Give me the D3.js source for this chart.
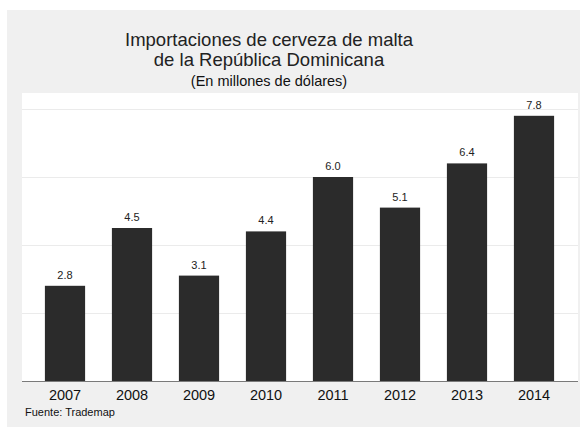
<!DOCTYPE html>
<html>
<head>
<meta charset="utf-8">
<script src="https://cdn.jsdelivr.net/npm/d3@7"></script>
<style>
  body { margin: 0; background: #fff; }
  svg { display: block; font-family: "Liberation Sans", Arial, sans-serif; }
</style>
</head>
<body>
<div class="chart"></div>
<script>
// Data
const years = ['2007', '2008', '2009', '2010', '2011', '2012', '2013', '2014']
const values = [2.8, 4.5, 3.1, 4.4, 6.0, 5.1, 6.4, 7.8]
const gridTicks = [2, 4, 6, 8]
const titleLines = ['Importaciones de cerveza de malta', 'de la República Dominicana']
const subtitle = '(En millones de dólares)'
const source = 'Fuente: Trademap'

const dataset = years.map((y, i) => ({ year: y, value: values[i] }))

// Dimensions
const width = 584
const height = 429
const plot = { left: 22, right: 578, top: 93, bottom: 381 }

const svg = d3.select('.chart')
    .append('svg')
    .attr('width', width)
    .attr('height', height)

// outer grey panel
svg.append('rect')
    .attr('x', 7).attr('y', 10)
    .attr('width', 573).attr('height', 417)
    .attr('fill', '#f0f0f0')

// white plot area
svg.append('rect')
    .attr('x', plot.left).attr('y', plot.top)
    .attr('width', plot.right - plot.left)
    .attr('height', plot.bottom - plot.top)
    .attr('fill', '#ffffff')

// Scales
const xScale = d3.scaleBand()
    .domain(years)
    .range([31.5, 567.5])
    .paddingInner(0.4)
    .paddingOuter(0.2)

const yScale = d3.scaleLinear()
    .domain([0, 8])
    .range([plot.bottom, 109])

// Gridlines
svg.append('g')
    .selectAll('line')
    .data(gridTicks)
    .join('line')
    .attr('x1', plot.left)
    .attr('x2', plot.right)
    .attr('y1', d => yScale(d) + 0.5)
    .attr('y2', d => yScale(d) + 0.5)
    .attr('stroke', '#ebebeb')
    .attr('stroke-width', 1)

// Bars
svg.append('g')
    .selectAll('rect')
    .data(dataset)
    .join('rect')
    .attr('x', d => xScale(d.year))
    .attr('width', xScale.bandwidth())
    .attr('y', d => yScale(d.value))
    .attr('height', d => yScale(0) - yScale(d.value))
    .attr('fill', '#2b2b2b')

// Value labels
svg.append('g')
    .selectAll('text')
    .data(dataset)
    .join('text')
    .attr('x', d => xScale(d.year) + xScale.bandwidth() / 2)
    .attr('y', d => yScale(d.value) - 7)
    .attr('text-anchor', 'middle')
    .attr('font-size', 11)
    .attr('fill', '#222')
    .text(d => d.value.toFixed(1))

// X axis
const xAxis = d3.axisBottom(xScale).tickSize(0).tickPadding(9)
const xAxisGroup = svg.append('g')
    .attr('transform', `translate(0, ${plot.bottom})`)
    .call(xAxis)
xAxisGroup.select('.domain').remove()
xAxisGroup.selectAll('text')
    .attr('font-size', 14.5)
    .attr('font-family', '"Liberation Sans", Arial, sans-serif')
    .attr('fill', '#111')

svg.append('line')
    .attr('x1', plot.left).attr('x2', plot.right)
    .attr('y1', plot.bottom + 0.5).attr('y2', plot.bottom + 0.5)
    .attr('stroke', '#7a7a7a')
    .attr('stroke-width', 1)

// Titles
const titleX = 269
svg.append('g')
    .selectAll('text')
    .data(titleLines)
    .join('text')
    .attr('x', titleX)
    .attr('y', (d, i) => 46 + i * 20)
    .attr('text-anchor', 'middle')
    .attr('font-size', 18.5)
    .attr('fill', '#222')
    .text(d => d)

svg.append('text')
    .attr('x', titleX)
    .attr('y', 86)
    .attr('text-anchor', 'middle')
    .attr('font-size', 14.5)
    .attr('fill', '#111')
    .text(subtitle)

// Source
svg.append('text')
    .attr('x', 25)
    .attr('y', 416)
    .attr('font-size', 11)
    .attr('fill', '#111')
    .text(source)
</script>
</body>
</html>
